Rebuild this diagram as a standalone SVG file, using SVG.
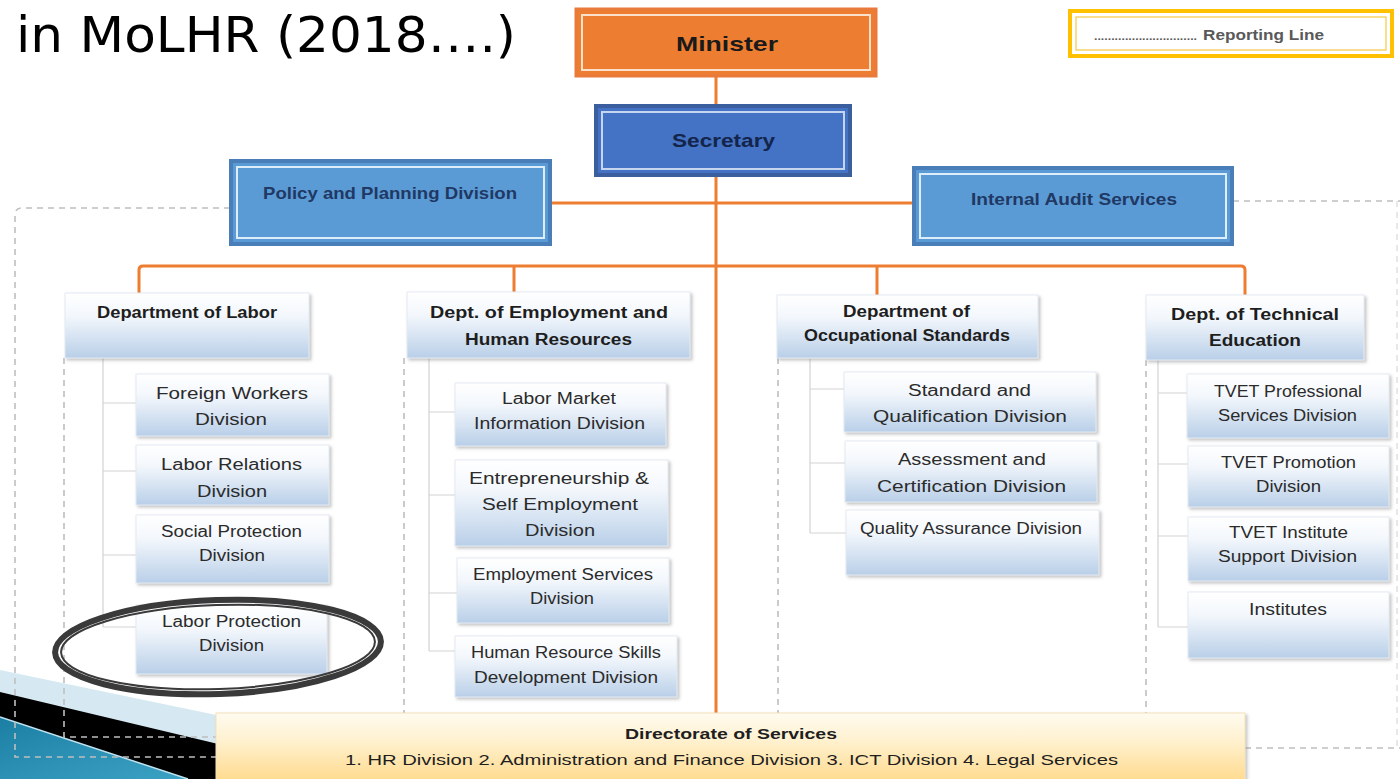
<svg xmlns="http://www.w3.org/2000/svg" width="1400" height="779" viewBox="0 0 1400 779">
<defs>
<linearGradient id="gSub" x1="0" y1="0" x2="0" y2="1">
<stop offset="0" stop-color="#FFFFFF"/>
<stop offset="0.35" stop-color="#F3F7FC"/>
<stop offset="1" stop-color="#B9CFE8"/>
</linearGradient>
<linearGradient id="gDir" x1="0" y1="0" x2="0" y2="1">
<stop offset="0" stop-color="#FFFBF0"/>
<stop offset="0.4" stop-color="#FFF1CF"/>
<stop offset="1" stop-color="#FFD98A"/>
</linearGradient>
<linearGradient id="gTeal" x1="0" y1="0" x2="1" y2="1">
<stop offset="0" stop-color="#1B7FA3"/>
<stop offset="1" stop-color="#3CA2C4"/>
</linearGradient>
<filter id="sh" x="-10%" y="-10%" width="130%" height="140%">
<feDropShadow dx="2" dy="2" stdDeviation="1.5" flood-color="#7F7F7F" flood-opacity="0.45"/>
</filter>
<style>
.t{font-family:"Liberation Sans",Arial,sans-serif;text-anchor:middle}
.sub{font-size:16px;fill:#2B2B2B}
.dep{font-size:16px;font-weight:bold;fill:#1E1E1E}
.top{font-size:17px;font-weight:bold;fill:#1F3864}
.conn{stroke:#ED7D31;stroke-width:3;fill:none}
.dash{stroke:#BFBFBF;stroke-width:1.6;stroke-dasharray:6 5;fill:none}
.dashl{stroke:#D9D9D9;stroke-width:1.2;stroke-dasharray:6 5;fill:none}
.tick{stroke:#D3D3D3;stroke-width:1.2;fill:none}
.box{fill:url(#gSub);stroke:#E3EAF2;stroke-width:1;filter:url(#sh)}
</style>
</defs>
<rect width="1400" height="779" fill="#FFFFFF"/>

<!-- decoration bottom-left -->
<g id="decoration">
<polygon points="0,670 260,724 260,779 0,779" fill="#D6E9F2"/>
<polygon points="0,692 260,754 260,779 0,779" fill="#000000"/>
<polygon points="0,717 188,779 0,779" fill="url(#gTeal)"/>
<line x1="0" y1="717" x2="188" y2="779" stroke="#BFE3F0" stroke-width="1.5"/>
</g>

<!-- title -->
<text x="16" y="52" font-family="DejaVu Sans, sans-serif" font-size="50" fill="#000000" textLength="500" lengthAdjust="spacingAndGlyphs">in MoLHR (2018….)</text>

<!-- connectors -->
<g id="connectors">
<path class="dash" d="M230,208 H22 Q15,208 15,215 V757 H216"/>
<path class="dash" d="M64,358 V737 H216"/>
<path class="dash" d="M404,358 V713"/>
<path class="dash" d="M778,358 V713"/>
<path class="dash" d="M1146,360 V713"/>
<path class="dash" d="M1233,201 H1400"/>
<path class="dashl" d="M1397,201 V748"/>
<path class="dash" d="M1245,748 H1400"/>
<path class="tick" d="M103,358 V627 M103,403 H136 M103,471 H136 M103,555 H136 M103,627 H136"/>
<path class="tick" d="M429,358 V651 M429,412 H455 M429,495 H455 M429,593 H457 M429,651 H455"/>
<path class="tick" d="M810,357 V533 M810,389 H844 M810,463 H845 M810,533 H846"/>
<path class="tick" d="M1158,360 V627 M1158,393 H1187 M1158,464 H1188 M1158,536 H1188 M1158,627 H1188"/>
<path class="conn" d="M716,77 V713"/>
<path class="conn" d="M551,203 H913"/>
<path class="conn" d="M139,293 V270 Q139,266 143,266 H1241 Q1245,266 1245,270 V295"/>
<path class="conn" d="M514,266 V292"/>
<path class="conn" d="M877,266 V295"/>
</g>

<!-- legend -->
<g id="legend">
<rect x="1070" y="11" width="322" height="45" fill="#FFFFFF" stroke="#FFC000" stroke-width="4"/>
<rect x="1076" y="17" width="310" height="33" fill="none" stroke="#F5C842" stroke-width="1.2"/>
<text x="1094" y="40" font-family="Liberation Sans, Arial, sans-serif" font-size="11" font-weight="bold" fill="#595959" textLength="103" lengthAdjust="spacingAndGlyphs">..............................</text>
<text x="1203" y="40" font-family="Liberation Sans, Arial, sans-serif" font-size="15" font-weight="bold" fill="#595959" textLength="121" lengthAdjust="spacingAndGlyphs">Reporting Line</text>
</g>

<!-- top boxes -->
<g id="minister">
<rect x="576" y="9" width="300" height="67" fill="#ED7D31" stroke="#E97A3A" stroke-width="3"/>
<rect x="582" y="15" width="288" height="55" fill="none" stroke="#FBE0CC" stroke-width="2"/>
<text class="t" x="727" y="51" font-size="21" font-weight="bold" fill="#1A1A1A" textLength="102" lengthAdjust="spacingAndGlyphs">Minister</text>
</g>
<g id="secretary">
<rect x="596" y="106" width="254" height="69" fill="#4472C4" stroke="#3B5E9E" stroke-width="4"/>
<rect x="602" y="112" width="242" height="57" fill="none" stroke="#C5D5EF" stroke-width="2"/>
<text class="t" x="723.5" y="147" font-size="19" font-weight="bold" fill="#13254A" textLength="103" lengthAdjust="spacingAndGlyphs">Secretary</text>
</g>
<g id="policy">
<rect x="231" y="161" width="319" height="83" fill="#5B9BD5" stroke="#4A7EB8" stroke-width="4"/>
<rect x="237" y="167" width="307" height="71" fill="none" stroke="#DDEEFA" stroke-width="2"/>
<text class="t top" x="390" y="199" textLength="254" lengthAdjust="spacingAndGlyphs">Policy and Planning Division</text>
</g>
<g id="audit">
<rect x="914" y="168" width="318" height="76" fill="#5B9BD5" stroke="#4A7EB8" stroke-width="4"/>
<rect x="920" y="174" width="306" height="64" fill="none" stroke="#DDEEFA" stroke-width="2"/>
<text class="t top" x="1074" y="205" textLength="206" lengthAdjust="spacingAndGlyphs">Internal Audit Services</text>
</g>

<!-- departments -->
<g id="dept-labor">
<rect class="box" x="65" y="293" width="244" height="65"/>
<text class="t dep" x="187" y="318" font-size="15" textLength="180" lengthAdjust="spacingAndGlyphs">Department of Labor</text>
</g>
<g id="dept-employment">
<rect class="box" x="407" y="292" width="283" height="66"/>
<text class="t dep" x="549" y="318" font-size="17" textLength="238" lengthAdjust="spacingAndGlyphs">Dept. of Employment and</text>
<text class="t dep" x="548.5" y="345" font-size="17" textLength="167" lengthAdjust="spacingAndGlyphs">Human Resources</text>
</g>
<g id="dept-occupational">
<rect class="box" x="777" y="295" width="261" height="63"/>
<text class="t dep" x="906.5" y="317" font-size="15" textLength="127" lengthAdjust="spacingAndGlyphs">Department of</text>
<text class="t dep" x="907" y="341" font-size="15" textLength="206" lengthAdjust="spacingAndGlyphs">Occupational Standards</text>
</g>
<g id="dept-technical">
<rect class="box" x="1146" y="295" width="218" height="65"/>
<text class="t dep" x="1255" y="320" font-size="17" textLength="168" lengthAdjust="spacingAndGlyphs">Dept. of Technical</text>
<text class="t dep" x="1255" y="346" font-size="17" textLength="92" lengthAdjust="spacingAndGlyphs">Education</text>
</g>

<!-- labor divisions -->
<g id="foreign-workers">
<rect class="box" x="136" y="374" width="193" height="62"/>
<text class="t sub" x="232" y="399" textLength="152" lengthAdjust="spacingAndGlyphs">Foreign Workers</text>
<text class="t sub" x="231" y="425" textLength="72" lengthAdjust="spacingAndGlyphs">Division</text>
</g>
<g id="labor-relations">
<rect class="box" x="136" y="445" width="193" height="60"/>
<text class="t sub" x="231.5" y="470" textLength="141" lengthAdjust="spacingAndGlyphs">Labor Relations</text>
<text class="t sub" x="232" y="497" textLength="70" lengthAdjust="spacingAndGlyphs">Division</text>
</g>
<g id="social-protection">
<rect class="box" x="136" y="515" width="193" height="68"/>
<text class="t sub" x="231.5" y="537" textLength="141" lengthAdjust="spacingAndGlyphs">Social Protection</text>
<text class="t sub" x="232" y="561" textLength="66" lengthAdjust="spacingAndGlyphs">Division</text>
</g>
<g id="labor-protection">
<rect class="box" x="136" y="605" width="191" height="69"/>
<text class="t sub" x="231.5" y="627" textLength="139" lengthAdjust="spacingAndGlyphs">Labor Protection</text>
<text class="t sub" x="231.5" y="651" textLength="65" lengthAdjust="spacingAndGlyphs">Division</text>
</g>

<!-- employment divisions -->
<g id="lmi">
<rect class="box" x="455" y="383" width="211" height="63"/>
<text class="t sub" x="559" y="404" textLength="114" lengthAdjust="spacingAndGlyphs">Labor Market</text>
<text class="t sub" x="559.5" y="429" textLength="171" lengthAdjust="spacingAndGlyphs">Information Division</text>
</g>
<g id="entrepreneurship">
<rect class="box" x="455" y="460" width="213" height="86"/>
<text class="t sub" x="559" y="484" font-size="17" textLength="180" lengthAdjust="spacingAndGlyphs">Entrepreneurship &amp;</text>
<text class="t sub" x="560" y="510" font-size="17" textLength="156" lengthAdjust="spacingAndGlyphs">Self Employment</text>
<text class="t sub" x="560" y="536" font-size="17" textLength="70" lengthAdjust="spacingAndGlyphs">Division</text>
</g>
<g id="employment-services">
<rect class="box" x="457" y="558" width="212" height="65"/>
<text class="t sub" x="563" y="580" textLength="180" lengthAdjust="spacingAndGlyphs">Employment Services</text>
<text class="t sub" x="562" y="604" textLength="64" lengthAdjust="spacingAndGlyphs">Division</text>
</g>
<g id="hr-skills">
<rect class="box" x="455" y="636" width="222" height="61"/>
<text class="t sub" x="566" y="658" textLength="190" lengthAdjust="spacingAndGlyphs">Human Resource Skills</text>
<text class="t sub" x="566" y="683" textLength="184" lengthAdjust="spacingAndGlyphs">Development Division</text>
</g>

<!-- occupational divisions -->
<g id="standard-qualification">
<rect class="box" x="844" y="372" width="252" height="60"/>
<text class="t sub" x="969.5" y="396" textLength="123" lengthAdjust="spacingAndGlyphs">Standard and</text>
<text class="t sub" x="970" y="422" textLength="194" lengthAdjust="spacingAndGlyphs">Qualification Division</text>
</g>
<g id="assessment-certification">
<rect class="box" x="845" y="441" width="252" height="61"/>
<text class="t sub" x="972" y="465" textLength="148" lengthAdjust="spacingAndGlyphs">Assessment and</text>
<text class="t sub" x="971.5" y="492" textLength="189" lengthAdjust="spacingAndGlyphs">Certification Division</text>
</g>
<g id="quality-assurance">
<rect class="box" x="846" y="510" width="253" height="65"/>
<text class="t sub" x="971" y="534" textLength="222" lengthAdjust="spacingAndGlyphs">Quality Assurance Division</text>
</g>

<!-- technical divisions -->
<g id="tvet-professional">
<rect class="box" x="1187" y="374" width="202" height="64"/>
<text class="t sub" x="1288" y="397" textLength="148" lengthAdjust="spacingAndGlyphs">TVET Professional</text>
<text class="t sub" x="1287.5" y="421" textLength="139" lengthAdjust="spacingAndGlyphs">Services Division</text>
</g>
<g id="tvet-promotion">
<rect class="box" x="1188" y="446" width="201" height="61"/>
<text class="t sub" x="1288.5" y="468" textLength="135" lengthAdjust="spacingAndGlyphs">TVET Promotion</text>
<text class="t sub" x="1288.5" y="492" textLength="65" lengthAdjust="spacingAndGlyphs">Division</text>
</g>
<g id="tvet-institute-support">
<rect class="box" x="1188" y="517" width="201" height="64"/>
<text class="t sub" x="1288.5" y="538" textLength="119" lengthAdjust="spacingAndGlyphs">TVET Institute</text>
<text class="t sub" x="1287.5" y="562" textLength="139" lengthAdjust="spacingAndGlyphs">Support Division</text>
</g>
<g id="institutes">
<rect class="box" x="1188" y="592" width="201" height="66"/>
<text class="t sub" x="1288" y="615" textLength="78" lengthAdjust="spacingAndGlyphs">Institutes</text>
</g>

<!-- directorate -->
<g id="directorate">
<rect x="216" y="713" width="1029" height="70" fill="url(#gDir)" stroke="#F4E2B8" stroke-width="1" filter="url(#sh)"/>
<text class="t" x="731" y="739" font-size="15" font-weight="bold" fill="#1E1E1E" textLength="212" lengthAdjust="spacingAndGlyphs">Directorate of Services</text>
<text class="t" x="731.5" y="765" font-size="15" fill="#1E1E1E" textLength="773" lengthAdjust="spacingAndGlyphs">1. HR Division  2. Administration and Finance Division 3. ICT Division 4. Legal Services</text>
</g>

<!-- highlight ring -->
<g id="highlight">
<ellipse cx="218" cy="647" rx="163" ry="47" transform="rotate(-2 218 647)" fill="none" stroke="#3A3A3A" stroke-width="6"/>
<ellipse cx="218" cy="647" rx="157" ry="42" transform="rotate(-2 218 647)" fill="none" stroke="#3A3A3A" stroke-width="2"/>
</g>
</svg>
